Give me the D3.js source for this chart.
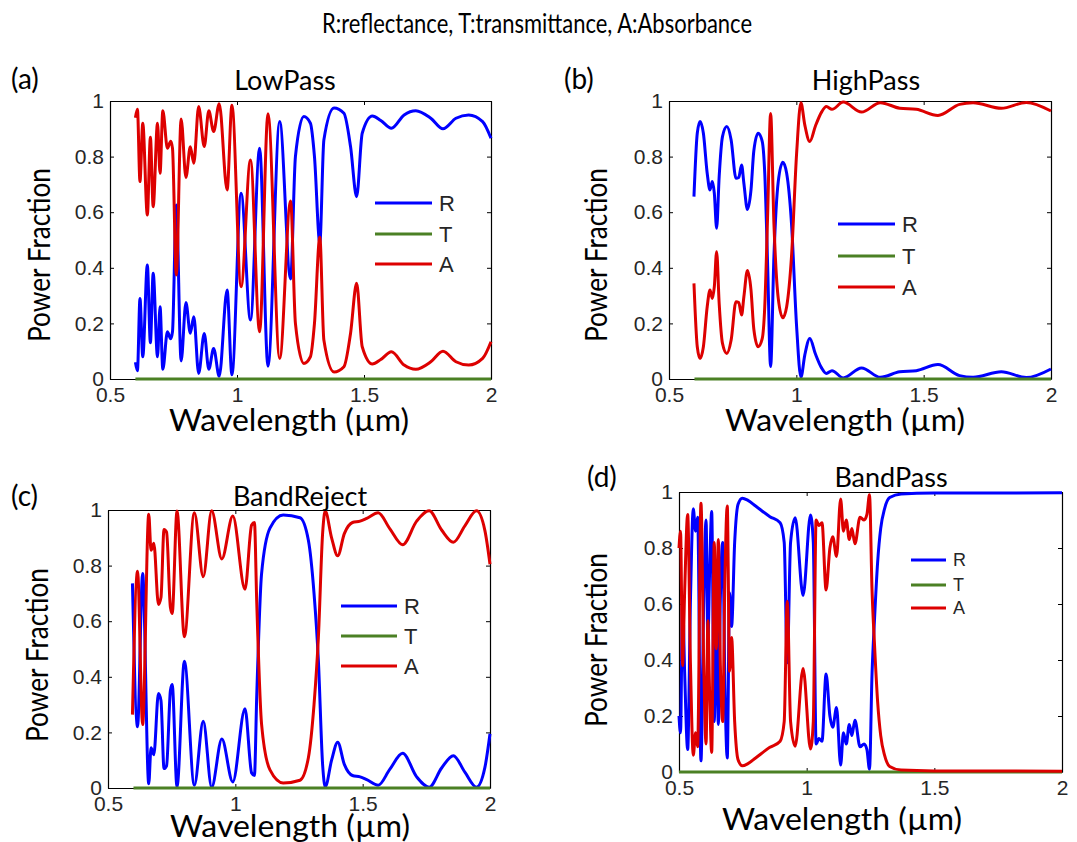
<!DOCTYPE html>
<html><head><meta charset="utf-8">
<script src="https://cdn.jsdelivr.net/npm/d3@7"></script>
<style>body{margin:0;background:#fff}svg{display:block}</style>
</head><body>
<svg id="c" width="1077" height="842"></svg>
<script>
// ---------- DATA ----------
const mainTitle = "R:reflectance, T:transmittance, A:Absorbance";
const seriesNames = ["R", "T", "A"];
const xTicks = [0.5, 1, 1.5, 2];
const xTickLabels = ["0.5", "1", "1.5", "2"];
const yTicks = [0, 0.2, 0.4, 0.6, 0.8, 1];
const yTickLabels = ["0", "0.2", "0.4", "0.6", "0.8", "1"];

// (a) LowPass
const aWl = [0.60,0.608,0.618,0.629,0.647,0.659,0.670,0.687,0.697,0.708,0.726,0.739,0.746,0.761,0.780,0.799,0.816,0.830,0.849,0.871,0.889,0.908,0.930,0.961,0.980,1.016,1.053,1.089,1.122,1.168,1.211,1.230,1.263,1.289,1.305,1.326,1.342,1.382,1.421,1.447,1.471,1.493,1.533,1.566,1.608,1.658,1.704,1.763,1.811,1.862,1.912,1.967,2.0];
const aR = [0.06,0.03,0.29,0.08,0.41,0.13,0.38,0.08,0.26,0.035,0.17,0.145,0.17,0.626,0.065,0.275,0.165,0.224,0.02,0.164,0.035,0.11,0.01,0.32,0.015,0.668,0.212,0.83,0.046,0.926,0.36,0.80,0.944,0.92,0.80,0.49,0.86,0.975,0.956,0.836,0.656,0.884,0.946,0.93,0.902,0.95,0.965,0.938,0.90,0.938,0.95,0.926,0.866];
const aA = [0.94,0.97,0.71,0.92,0.59,0.87,0.62,0.92,0.74,0.965,0.83,0.855,0.83,0.374,0.935,0.725,0.835,0.776,0.98,0.836,0.965,0.89,0.99,0.68,0.985,0.332,0.788,0.17,0.954,0.074,0.64,0.20,0.056,0.08,0.20,0.51,0.14,0.025,0.044,0.164,0.344,0.116,0.054,0.07,0.098,0.05,0.035,0.062,0.10,0.062,0.05,0.074,0.134];
const aTWl = [0.6, 2.0];
const aT = [0, 0];

// (b) HighPass
const bWl = [0.598,0.611,0.622,0.635,0.650,0.661,0.670,0.678,0.687,0.697,0.710,0.727,0.744,0.763,0.774,0.785,0.794,0.808,0.822,0.833,0.850,0.866,0.876,0.887,0.899,0.912,0.929,0.947,0.962,0.981,1.001,1.018,1.033,1.053,1.075,1.099,1.118,1.140,1.184,1.256,1.330,1.406,1.471,1.556,1.641,1.694,1.805,1.903,2.0];
const bR = [0.656,0.884,0.926,0.884,0.74,0.68,0.71,0.668,0.542,0.728,0.872,0.908,0.86,0.722,0.725,0.77,0.704,0.61,0.68,0.82,0.884,0.855,0.74,0.42,0.045,0.44,0.71,0.78,0.74,0.56,0.19,0.006,0.085,0.146,0.09,0.04,0.02,0.03,0.004,0.04,0.006,0.026,0.03,0.052,0.012,0.006,0.026,0.005,0.036];
const bA = [0.344,0.116,0.074,0.116,0.26,0.32,0.29,0.332,0.458,0.272,0.128,0.092,0.14,0.278,0.275,0.23,0.296,0.39,0.32,0.18,0.116,0.145,0.26,0.58,0.955,0.56,0.29,0.22,0.26,0.44,0.81,0.994,0.915,0.854,0.91,0.96,0.98,0.97,0.996,0.96,0.994,0.974,0.97,0.948,0.988,0.994,0.974,0.995,0.964];
const bTWl = [0.6, 2.0];
const bT = [0, 0];

// (c) BandReject
const cWl = [0.596,0.616,0.636,0.660,0.669,0.680,0.698,0.708,0.720,0.730,0.745,0.752,0.771,0.800,0.839,0.874,0.907,0.947,0.990,1.038,1.064,1.075,1.084,1.103,1.136,1.188,1.254,1.287,1.309,1.326,1.343,1.353,1.378,1.402,1.428,1.460,1.490,1.516,1.561,1.607,1.657,1.712,1.761,1.810,1.856,1.902,1.947,1.980,2.0];
const cR = [0.736,0.22,0.772,0.015,0.145,0.12,0.34,0.315,0.07,0.08,0.35,0.372,0.004,0.456,0.01,0.24,0.003,0.176,0.022,0.285,0.054,0.045,0.33,0.77,0.935,0.982,0.972,0.89,0.70,0.46,0.08,0.004,0.10,0.165,0.085,0.045,0.04,0.03,0.01,0.068,0.125,0.04,0.003,0.072,0.116,0.056,0.003,0.074,0.195];
const cA = [0.264,0.78,0.228,0.985,0.855,0.88,0.66,0.685,0.93,0.92,0.65,0.628,0.996,0.544,0.99,0.76,0.997,0.824,0.978,0.715,0.946,0.955,0.67,0.23,0.065,0.018,0.028,0.11,0.30,0.54,0.92,0.996,0.90,0.835,0.915,0.955,0.96,0.97,0.99,0.932,0.875,0.96,0.997,0.928,0.884,0.944,0.997,0.926,0.805];
const cTWl = [0.6, 2.0];
const cT = [0, 0];

// (d) BandPass
const dWl = [0.500,0.506,0.514,0.522,0.534,0.545,0.556,0.565,0.573,0.586,0.597,0.606,0.613,0.620,0.628,0.638,0.646,0.654,0.662,0.671,0.680,0.689,0.698,0.706,0.718,0.731,0.748,0.770,0.800,0.856,0.896,0.912,0.924,0.937,0.955,0.986,1.015,1.026,1.037,1.048,1.060,1.076,1.091,1.102,1.117,1.133,1.144,1.155,1.167,1.177,1.189,1.209,1.225,1.236,1.246,1.256,1.266,1.278,1.290,1.305,1.325,1.370,1.500,2.000];
const dR = [0.20,0.14,0.62,0.36,0.08,0.62,0.94,0.86,0.91,0.04,0.62,0.90,0.46,0.72,0.93,0.18,0.56,0.17,0.62,0.82,0.30,0.05,0.64,0.52,0.82,0.955,0.978,0.97,0.95,0.912,0.89,0.82,0.39,0.82,0.908,0.63,0.918,0.82,0.10,0.12,0.11,0.35,0.20,0.16,0.23,0.025,0.14,0.10,0.17,0.13,0.185,0.09,0.10,0.08,0.01,0.35,0.55,0.75,0.87,0.94,0.98,0.993,0.996,0.997];
const dA = [0.80,0.86,0.38,0.64,0.92,0.38,0.06,0.14,0.09,0.96,0.38,0.10,0.54,0.28,0.07,0.82,0.44,0.83,0.38,0.18,0.70,0.95,0.36,0.48,0.18,0.045,0.022,0.03,0.05,0.088,0.11,0.18,0.61,0.18,0.092,0.37,0.082,0.18,0.90,0.88,0.89,0.65,0.80,0.84,0.77,0.975,0.86,0.90,0.83,0.87,0.815,0.91,0.90,0.92,0.99,0.65,0.45,0.25,0.13,0.06,0.02,0.007,0.004,0.003];
const dTWl = [0.5, 2.0];
const dT = [0, 0];

// ---------- LAYOUT / STYLE ----------
const colors = {R: "#0000ff", T: "#4b8024", A: "#dd0000"};
const labelFont = "Lato, 'Open Sans', sans-serif";
const tickFont = "'Liberation Sans', Arial, sans-serif";
const panels = [
  {tag:"(a)", title:"LowPass", wl:aWl, R:aR, A:aA, tWl:aTWl, T:aT,
   box:[110,101,491,379], tagPos:[11,89], titlePos:[285,90], ylabPos:[50,255], xlabPos:[289,431],
   leg:{x0:375,x1:432,ys:[203,234,264],fs:22}},
  {tag:"(b)", title:"HighPass", wl:bWl, R:bR, A:bA, tWl:bTWl, T:bT,
   box:[669,101,1051,379], tagPos:[564,89], titlePos:[866,90], ylabPos:[607,255], xlabPos:[845,431],
   leg:{x0:838,x1:895,ys:[224,256,287],fs:22}},
  {tag:"(c)", title:"BandReject", wl:cWl, R:cR, A:cA, tWl:cTWl, T:cT,
   box:[108,510,490,788], tagPos:[11,506], titlePos:[300,506], ylabPos:[48,655], xlabPos:[290,837],
   leg:{x0:341,x1:397,ys:[606,636,666],fs:22}},
  {tag:"(d)", title:"BandPass", wl:dWl, R:dR, A:dA, tWl:dTWl, T:dT,
   box:[679,492,1062,772], tagPos:[587,487], titlePos:[891,487], ylabPos:[607,640], xlabPos:[842,830],
   leg:{x0:911,x1:946,ys:[560,585,608],fs:18}}
];

const svg = d3.select("#c");
svg.append("text").attr("x", 537).attr("y", 33).attr("text-anchor", "middle")
  .attr("textLength", 430).attr("lengthAdjust", "spacingAndGlyphs")
  .style("font-family", labelFont).style("font-size", "26px").attr("fill", "#000").text(mainTitle);

panels.forEach(p => {
  const [x0, y0, x1, y1] = p.box;
  const x = d3.scaleLinear().domain([0.5, 2]).range([x0, x1]);
  const y = d3.scaleLinear().domain([0, 1]).range([y1, y0]);
  const g = svg.append("g");

  const styleAxis = sel => {
    sel.selectAll(".domain").attr("stroke", "#000").attr("stroke-width", 1.2);
    sel.selectAll(".tick line").attr("stroke", "#000");
    sel.selectAll("text").style("font-family", tickFont).style("font-size", "21px").attr("fill", "#262626");
  };
  g.append("g").attr("transform", `translate(0,${y1})`)
    .call(d3.axisBottom(x).tickValues(xTicks).tickFormat((d, i) => xTickLabels[i]).tickSizeInner(-4).tickSizeOuter(0).tickPadding(8))
    .call(styleAxis);
  g.append("g").attr("transform", `translate(0,${y0})`)
    .call(d3.axisTop(x).tickValues(xTicks).tickFormat("").tickSizeInner(-4).tickSizeOuter(0))
    .call(styleAxis);
  g.append("g").attr("transform", `translate(${x0},0)`)
    .call(d3.axisLeft(y).tickValues(yTicks).tickFormat((d, i) => yTickLabels[i]).tickSizeInner(-4).tickSizeOuter(0).tickPadding(6))
    .call(styleAxis);
  g.append("g").attr("transform", `translate(${x1},0)`)
    .call(d3.axisRight(y).tickValues(yTicks).tickFormat("").tickSizeInner(-4).tickSizeOuter(0))
    .call(styleAxis);

  const line = d3.line().x(d => x(d[0])).y(d => y(d[1])).curve(d3.curveMonotoneX);
  const series = [["R", p.wl, p.R], ["T", p.tWl, p.T], ["A", p.wl, p.A]];
  series.forEach(([k, w, v]) => {
    g.append("path").datum(w.map((d, i) => [d, v[i]])).attr("d", line)
      .attr("fill", "none").attr("stroke", colors[k]).attr("stroke-width", 3)
      .attr("stroke-linejoin", "round").attr("stroke-linecap", "butt");
  });

  seriesNames.forEach((k, i) => {
    const ly = p.leg.ys[i];
    g.append("line").attr("x1", p.leg.x0).attr("x2", p.leg.x1).attr("y1", ly).attr("y2", ly)
      .attr("stroke", colors[k]).attr("stroke-width", 3);
    g.append("text").attr("x", p.leg.x1 + 7).attr("y", ly).attr("dy", "0.36em")
      .style("font-family", tickFont).style("font-size", p.leg.fs + "px").attr("fill", "#262626").text(k);
  });

  g.append("text").attr("x", p.tagPos[0]).attr("y", p.tagPos[1])
    .style("font-family", labelFont).style("font-size", "28px").attr("fill", "#000").text(p.tag);
  g.append("text").attr("x", p.titlePos[0]).attr("y", p.titlePos[1]).attr("text-anchor", "middle")
    .style("font-family", labelFont).style("font-size", "27px").attr("fill", "#000").text(p.title);
  g.append("text").attr("transform", `translate(${p.ylabPos[0]},${p.ylabPos[1]}) rotate(-90)`)
    .attr("text-anchor", "middle").attr("textLength", 174).attr("lengthAdjust", "spacingAndGlyphs")
    .style("font-family", labelFont).style("font-size", "30px").attr("fill", "#000").text("Power Fraction");
  g.append("text").attr("x", p.xlabPos[0]).attr("y", p.xlabPos[1]).attr("text-anchor", "middle")
    .attr("textLength", 240).attr("lengthAdjust", "spacingAndGlyphs")
    .style("font-family", labelFont).style("font-size", "30px").attr("fill", "#000").text("Wavelength (\u00B5m)");
});
</script>
</body></html>
